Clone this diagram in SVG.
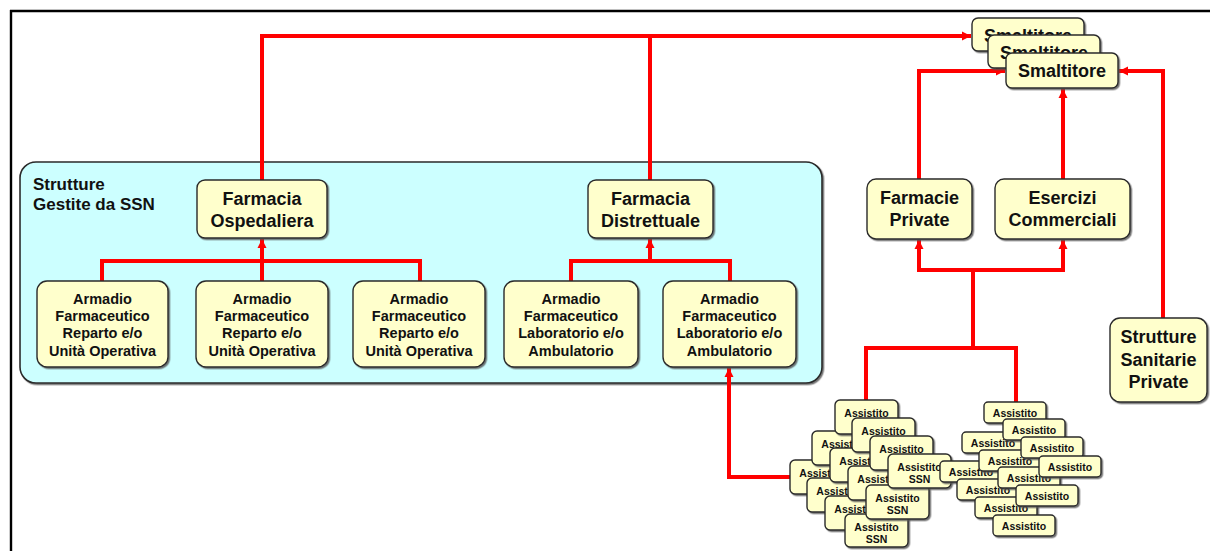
<svg xmlns="http://www.w3.org/2000/svg" width="1210" height="551" viewBox="0 0 1210 551">
  <style>
    .box { fill: #FFFFCC; stroke: #2a2a2a; stroke-width: 1.4; filter: url(#shadow); }
    .area { fill: #CCFFFF; stroke: #2a2a2a; stroke-width: 1.6; filter: url(#shadow); }
    .lbl { font-family: "Liberation Sans", Arial, sans-serif; font-weight: bold; fill: #111; text-anchor: middle; }
    .big { font-size: 18px; }
    .mid { font-size: 14.5px; }
    .sm { font-size: 10.5px; }
    .title { font-family: "Liberation Sans", Arial, sans-serif; font-weight: bold; font-size: 17px; fill: #111; }
    .wire { fill: none; stroke: #FF0000; stroke-width: 4; stroke-linejoin: miter; stroke-linecap: butt; }
    .frame { stroke: #000; stroke-width: 2.4; fill: none; }
  </style>
  <defs>
    <filter id="shadow" x="-10%" y="-10%" width="130%" height="130%">
      <feDropShadow dx="1.4" dy="1.4" stdDeviation="0.4" flood-color="#555" flood-opacity="0.8"/>
    </filter>
    <marker id="arrow" viewBox="0 0 10 10" refX="10" refY="5" markerWidth="9" markerHeight="10" markerUnits="userSpaceOnUse" orient="auto">
      <path d="M0,0 L10,5 L0,10 z" fill="#FF0000"/>
    </marker>
  </defs>

  <rect width="1210" height="551" fill="#FFFFFF"/>

  <!-- page frame -->
  <g id="frame">
    <line class="frame" x1="10" y1="11" x2="1210" y2="11"/>
    <line class="frame" x1="11" y1="10" x2="11" y2="551"/>
  </g>

  <!-- SSN area -->
  <g id="area-ssn">
    <rect class="area" x="20" y="162" width="802" height="221" rx="16"/>
    <text class="title" x="33" y="190">Strutture</text>
    <text class="title" x="33" y="210">Gestite da SSN</text>
  </g>

  <!-- connectors -->
  <g id="connectors">
    <path class="wire" d="M262,180 V36 H971" marker-end="url(#arrow)"/>
    <path class="wire" d="M650,180 V36"/>
    <path class="wire" d="M919,179 V71 H1005" marker-end="url(#arrow)"/>
    <path class="wire" d="M1163,318 V71 H1119" marker-end="url(#arrow)"/>
    <path class="wire" d="M1063,179 V89" marker-end="url(#arrow)"/>
    <path class="wire" d="M102,281 V261 H420 V281"/>
    <path class="wire" d="M262,281 V239" marker-end="url(#arrow)"/>
    <path class="wire" d="M571,281 V261 H730 V281"/>
    <path class="wire" d="M650,261 V239" marker-end="url(#arrow)"/>
    <path class="wire" d="M866,400 V348 H1016 V402"/>
    <path class="wire" d="M973,348 V270"/>
    <path class="wire" d="M975,270 H919 V240" marker-end="url(#arrow)"/>
    <path class="wire" d="M971,270 H1063 V240" marker-end="url(#arrow)"/>
    <path class="wire" d="M790,477 H729 V368" marker-end="url(#arrow)"/>
  </g>

  <!-- pharmacies within SSN -->
  <g id="farmacia-ospedaliera">
    <rect class="box" x="197" y="180" width="130" height="58" rx="8"/>
    <text class="lbl big" x="262" y="205">Farmacia</text>
    <text class="lbl big" x="262" y="227">Ospedaliera</text>
  </g>
  <g id="farmacia-distrettuale">
    <rect class="box" x="588" y="180" width="125" height="58" rx="8"/>
    <text class="lbl big" x="650.5" y="205">Farmacia</text>
    <text class="lbl big" x="650.5" y="227">Distrettuale</text>
  </g>

  <g id="armadio-reparto-1">
    <rect class="box" x="37" y="281" width="131" height="86" rx="10"/>
    <text class="lbl mid" x="102.5" y="304">Armadio</text>
    <text class="lbl mid" x="102.5" y="321">Farmaceutico</text>
    <text class="lbl mid" x="102.5" y="338">Reparto e/o</text>
    <text class="lbl mid" x="102.5" y="356">Unità Operativa</text>
  </g>
  <g id="armadio-reparto-2">
    <rect class="box" x="196" y="281" width="132" height="86" rx="10"/>
    <text class="lbl mid" x="262" y="304">Armadio</text>
    <text class="lbl mid" x="262" y="321">Farmaceutico</text>
    <text class="lbl mid" x="262" y="338">Reparto e/o</text>
    <text class="lbl mid" x="262" y="356">Unità Operativa</text>
  </g>
  <g id="armadio-reparto-3">
    <rect class="box" x="353" y="281" width="132" height="86" rx="10"/>
    <text class="lbl mid" x="419" y="304">Armadio</text>
    <text class="lbl mid" x="419" y="321">Farmaceutico</text>
    <text class="lbl mid" x="419" y="338">Reparto e/o</text>
    <text class="lbl mid" x="419" y="356">Unità Operativa</text>
  </g>
  <g id="armadio-laboratorio-1">
    <rect class="box" x="504" y="281" width="134" height="86" rx="10"/>
    <text class="lbl mid" x="571" y="304">Armadio</text>
    <text class="lbl mid" x="571" y="321">Farmaceutico</text>
    <text class="lbl mid" x="571" y="338">Laboratorio e/o</text>
    <text class="lbl mid" x="571" y="356">Ambulatorio</text>
  </g>
  <g id="armadio-laboratorio-2">
    <rect class="box" x="663" y="281" width="133" height="86" rx="10"/>
    <text class="lbl mid" x="729.5" y="304">Armadio</text>
    <text class="lbl mid" x="729.5" y="321">Farmaceutico</text>
    <text class="lbl mid" x="729.5" y="338">Laboratorio e/o</text>
    <text class="lbl mid" x="729.5" y="356">Ambulatorio</text>
  </g>

  <!-- disposal companies (stacked) -->
  <g id="smaltitore-1">
    <rect class="box" x="972" y="18" width="112" height="33" rx="6"/>
    <text class="lbl big" x="1028" y="42">Smaltitore</text>
  </g>
  <g id="smaltitore-2">
    <rect class="box" x="988" y="35" width="112" height="33" rx="6"/>
    <text class="lbl big" x="1044" y="59">Smaltitore</text>
  </g>
  <g id="smaltitore-3">
    <rect class="box" x="1006" y="53" width="112" height="35" rx="6"/>
    <text class="lbl big" x="1062" y="77">Smaltitore</text>
  </g>

  <!-- private structures -->
  <g id="farmacie-private">
    <rect class="box" x="867" y="179" width="105" height="60" rx="9"/>
    <text class="lbl big" x="919.5" y="204">Farmacie</text>
    <text class="lbl big" x="919.5" y="226">Private</text>
  </g>
  <g id="esercizi-commerciali">
    <rect class="box" x="995" y="179" width="135" height="60" rx="9"/>
    <text class="lbl big" x="1062.5" y="204">Esercizi</text>
    <text class="lbl big" x="1062.5" y="226">Commerciali</text>
  </g>
  <g id="strutture-sanitarie-private">
    <rect class="box" x="1110" y="318" width="97" height="84" rx="10"/>
    <text class="lbl big" x="1158.5" y="343">Strutture</text>
    <text class="lbl big" x="1158.5" y="366">Sanitarie</text>
    <text class="lbl big" x="1158.5" y="388">Private</text>
  </g>

  <!-- SSN patients -->
  <g id="assistito-ssn-g"><rect class="box" x="790" y="460" width="63" height="34" rx="5"/><text class="lbl sm" x="821.5" y="476.5">Assistito</text></g>
  <g id="assistito-ssn-i"><rect class="box" x="807" y="478" width="63" height="34" rx="5"/><text class="lbl sm" x="838.5" y="494.5">Assistito</text></g>
  <g id="assistito-ssn-c"><rect class="box" x="812" y="431" width="63" height="34" rx="5"/><text class="lbl sm" x="843.5" y="447.5">Assistito</text></g>
  <g id="assistito-ssn-k"><rect class="box" x="825" y="496" width="63" height="34" rx="5"/><text class="lbl sm" x="856.5" y="512.5">Assistito</text></g>
  <g id="assistito-ssn-e"><rect class="box" x="830" y="448" width="63" height="34" rx="5"/><text class="lbl sm" x="861.5" y="464.5">Assistito</text></g>
  <g id="assistito-ssn-a"><rect class="box" x="835" y="400" width="63" height="34" rx="5"/><text class="lbl sm" x="866.5" y="416.5">Assistito</text></g>
  <g id="assistito-ssn-l"><rect class="box" x="845" y="514" width="63" height="33" rx="5"/><text class="lbl sm" x="876.5" y="530.5">Assistito</text><text class="lbl sm" x="876.5" y="542.5">SSN</text></g>
  <g id="assistito-ssn-h"><rect class="box" x="848" y="466" width="63" height="34" rx="5"/><text class="lbl sm" x="879.5" y="482.5">Assistito</text></g>
  <g id="assistito-ssn-b"><rect class="box" x="852" y="418" width="63" height="34" rx="5"/><text class="lbl sm" x="883.5" y="434.5">Assistito</text></g>
  <g id="assistito-ssn-j"><rect class="box" x="866" y="485" width="63" height="34" rx="5"/><text class="lbl sm" x="897.5" y="501.5">Assistito</text><text class="lbl sm" x="897.5" y="513.5">SSN</text></g>
  <g id="assistito-ssn-d"><rect class="box" x="870" y="436" width="63" height="34" rx="5"/><text class="lbl sm" x="901.5" y="452.5">Assistito</text></g>
  <g id="assistito-ssn-f"><rect class="box" x="888" y="454" width="63" height="34" rx="5"/><text class="lbl sm" x="919.5" y="470.5">Assistito</text><text class="lbl sm" x="919.5" y="482.5">SSN</text></g>

  <!-- other patients -->
  <g id="assistito-r7"><rect class="box" x="940" y="461" width="62" height="21" rx="4"/><text class="lbl sm" x="971" y="475.5">Assistito</text></g>
  <g id="assistito-r9"><rect class="box" x="957" y="479" width="62" height="21" rx="4"/><text class="lbl sm" x="988" y="493.5">Assistito</text></g>
  <g id="assistito-r3"><rect class="box" x="962" y="432" width="62" height="21" rx="4"/><text class="lbl sm" x="993" y="446.5">Assistito</text></g>
  <g id="assistito-r11"><rect class="box" x="975" y="497" width="62" height="21" rx="4"/><text class="lbl sm" x="1006" y="511.5">Assistito</text></g>
  <g id="assistito-r5"><rect class="box" x="979" y="450" width="62" height="21" rx="4"/><text class="lbl sm" x="1010" y="464.5">Assistito</text></g>
  <g id="assistito-r1"><rect class="box" x="984" y="402" width="62" height="21" rx="4"/><text class="lbl sm" x="1015" y="416.5">Assistito</text></g>
  <g id="assistito-r12"><rect class="box" x="993" y="515" width="62" height="21" rx="4"/><text class="lbl sm" x="1024" y="529.5">Assistito</text></g>
  <g id="assistito-r8"><rect class="box" x="998" y="467" width="62" height="21" rx="4"/><text class="lbl sm" x="1029" y="481.5">Assistito</text></g>
  <g id="assistito-r2"><rect class="box" x="1003" y="419" width="62" height="21" rx="4"/><text class="lbl sm" x="1034" y="433.5">Assistito</text></g>
  <g id="assistito-r10"><rect class="box" x="1016" y="485" width="62" height="21" rx="4"/><text class="lbl sm" x="1047" y="499.5">Assistito</text></g>
  <g id="assistito-r4"><rect class="box" x="1021" y="437" width="62" height="21" rx="4"/><text class="lbl sm" x="1052" y="451.5">Assistito</text></g>
  <g id="assistito-r6"><rect class="box" x="1039" y="456" width="62" height="21" rx="4"/><text class="lbl sm" x="1070" y="470.5">Assistito</text></g>
</svg>
